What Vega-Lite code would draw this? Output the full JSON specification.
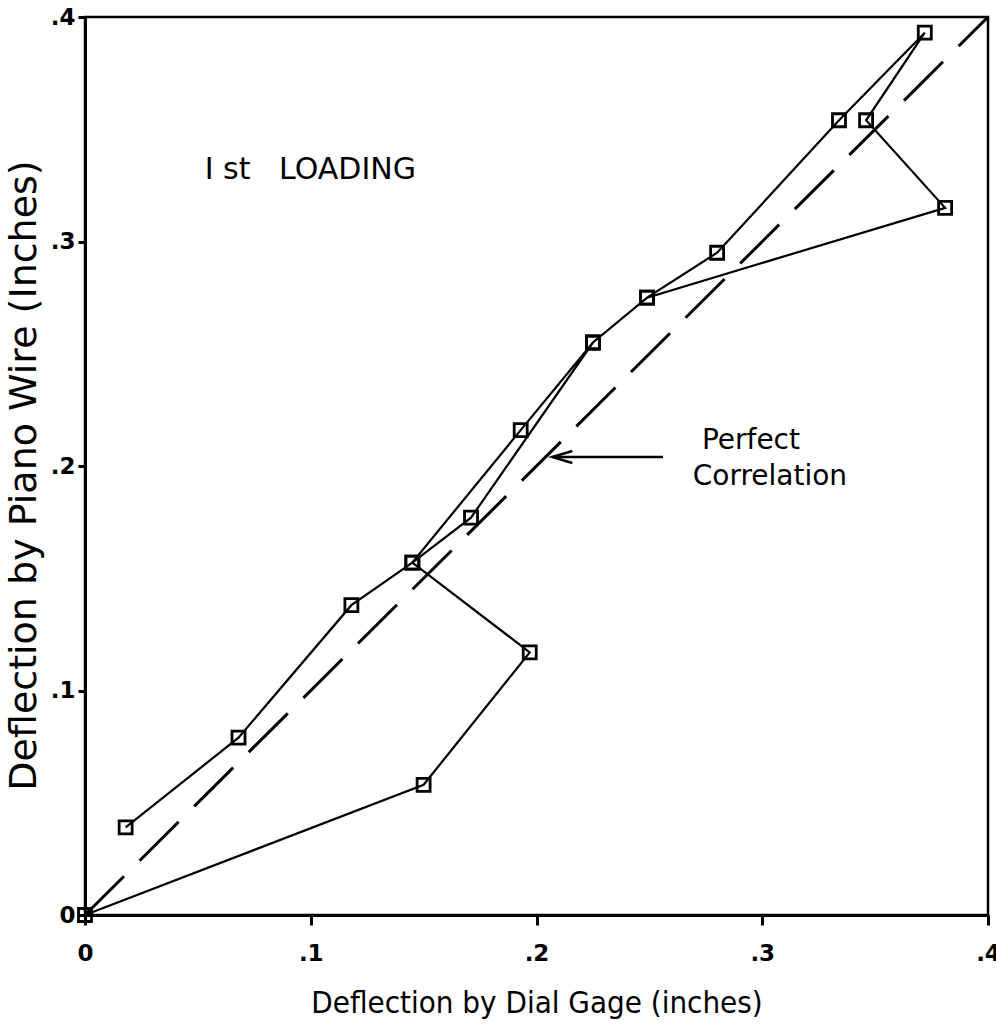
{
  "$schema": "https://vega.github.io/schema/vega-lite/v6.json",
  "width": 903,
  "height": 898,
  "autosize": {"type": "none"},
  "padding": {"left": 85, "top": 17, "right": 8, "bottom": 110},
  "background": "white",
  "config": {
    "view": {"stroke": "black", "strokeWidth": 2.5},
    "axis": {
      "domainColor": "black",
      "domainWidth": 3,
      "tickColor": "black",
      "tickWidth": 3,
      "grid": false,
      "labelColor": "black",
      "labelFont": "DejaVu Sans",
      "labelFontWeight": "bold",
      "labelFontSize": 23,
      "titleColor": "black",
      "titleFontWeight": "normal"
    }
  },
  "datasets": {
    "readings": [
      {"seq": 0, "x": 0.0, "y": 0.0},
      {"seq": 1, "x": 0.150, "y": 0.058},
      {"seq": 2, "x": 0.197, "y": 0.117},
      {"seq": 3, "x": 0.145, "y": 0.157},
      {"seq": 4, "x": 0.193, "y": 0.216},
      {"seq": 5, "x": 0.225, "y": 0.255},
      {"seq": 6, "x": 0.249, "y": 0.275},
      {"seq": 7, "x": 0.280, "y": 0.295},
      {"seq": 8, "x": 0.334, "y": 0.354},
      {"seq": 9, "x": 0.372, "y": 0.393},
      {"seq": 10, "x": 0.346, "y": 0.354},
      {"seq": 11, "x": 0.381, "y": 0.315},
      {"seq": 12, "x": 0.249, "y": 0.275},
      {"seq": 13, "x": 0.225, "y": 0.255},
      {"seq": 14, "x": 0.171, "y": 0.177},
      {"seq": 15, "x": 0.145, "y": 0.157},
      {"seq": 16, "x": 0.118, "y": 0.138},
      {"seq": 17, "x": 0.068, "y": 0.079},
      {"seq": 18, "x": 0.018, "y": 0.039}
    ],
    "perfect": [
      {"x": 0.0, "y": 0.0},
      {"x": 0.4, "y": 0.4}
    ],
    "arrow": [
      {"x": 0.207, "x2": 0.256, "y": 0.204}
    ],
    "heading": [
      {"label": "I st\u00a0\u00a0\u00a0LOADING", "x": 0.053, "y": 0.328}
    ],
    "callout": [
      {"label": "Perfect", "x": 0.295, "y": 0.2076},
      {"label": "Correlation", "x": 0.3034, "y": 0.1915}
    ]
  },
  "encoding": {
    "x": {
      "field": "x",
      "type": "quantitative",
      "scale": {"domain": [0, 0.4], "nice": false, "zero": false},
      "axis": {
        "values": [0, 0.1, 0.2, 0.3, 0.4],
        "tickSize": 10,
        "labelPadding": 35,
        "labelBaseline": "alphabetic",
        "labelFlush": false,
        "labelExpr": "datum.value === 0 ? '0' : slice(format(datum.value, '.1f'), 1)",
        "title": "Deflection by Dial Gage (inches)",
        "titleFont": "Liberation Sans Narrow, DejaVu Sans Condensed, sans-serif",
        "titleFontSize": 31,
        "titleBaseline": "alphabetic",
        "titleY": 97
      }
    },
    "y": {
      "field": "y",
      "type": "quantitative",
      "scale": {"domain": [0, 0.4], "nice": false, "zero": false},
      "axis": {
        "values": [0, 0.1, 0.2, 0.3, 0.4],
        "tickSize": 7,
        "labelPadding": 3,
        "labelFlush": false,
        "labelExpr": "datum.value === 0 ? '0' : slice(format(datum.value, '.1f'), 1)",
        "title": "Deflection by Piano Wire (Inches)",
        "titleFont": "DejaVu Sans",
        "titleFontSize": 38,
        "titleBaseline": "alphabetic",
        "titleX": -50,
        "titleY": 458
      }
    }
  },
  "layer": [
    {
      "data": {"name": "perfect"},
      "mark": {"type": "line", "color": "black", "strokeWidth": 3, "strokeDash": [55, 22]}
    },
    {
      "data": {"name": "readings"},
      "mark": {"type": "line", "color": "black", "strokeWidth": 2.2},
      "encoding": {"order": {"field": "seq", "type": "quantitative"}}
    },
    {
      "data": {"name": "readings"},
      "mark": {"type": "point", "shape": "square", "size": 169, "filled": false, "stroke": "black", "strokeWidth": 2.8, "opacity": 1}
    },
    {
      "data": {"name": "arrow"},
      "mark": {"type": "rule", "color": "black", "strokeWidth": 2.5},
      "encoding": {"x2": {"field": "x2"}}
    },
    {
      "data": {"name": "arrow"},
      "mark": {"type": "point", "shape": "M 2 -0.6 L 0 0 L 2 0.6", "size": 400, "filled": false, "stroke": "black", "strokeWidth": 2.5, "opacity": 1}
    },
    {
      "data": {"name": "heading"},
      "mark": {"type": "text", "font": "DejaVu Sans", "fontSize": 30, "align": "left", "baseline": "alphabetic", "color": "black"},
      "encoding": {"text": {"field": "label"}}
    },
    {
      "data": {"name": "callout"},
      "mark": {"type": "text", "font": "DejaVu Sans", "fontSize": 28, "align": "center", "baseline": "alphabetic", "color": "black"},
      "encoding": {"text": {"field": "label"}}
    }
  ]
}
